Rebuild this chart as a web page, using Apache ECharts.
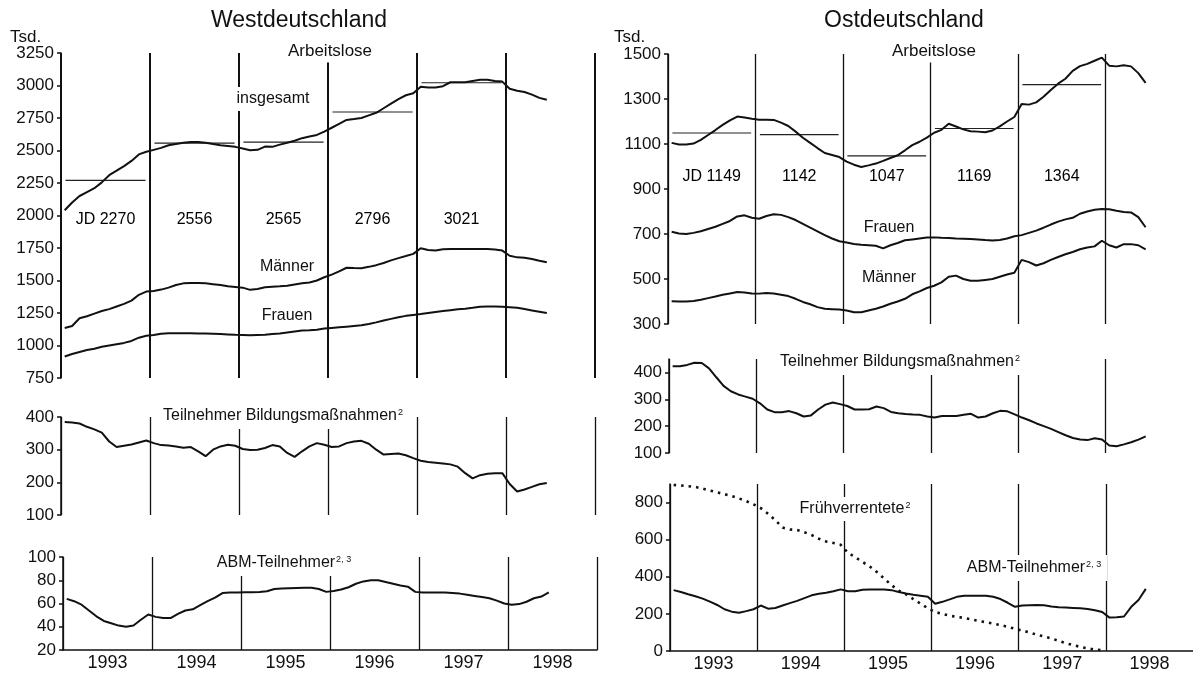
<!DOCTYPE html>
<html>
<head>
<meta charset="utf-8">
<script src="https://cdn.jsdelivr.net/npm/echarts@6/dist/echarts.min.js"></script>
<style>
html,body{margin:0;padding:0;background:#fff;}
#chart{width:1193px;height:678px;}
</style>
</head>
<body>
<div id="chart"></div>
<script>
// ---------- data (thousands), monthly Jan 1993 .. Jun 1998 ----------
const yearLabels = ['1993','1994','1995','1996','1997','1998'];
const jdYears = [1993,1994,1995,1996,1997];

// Westdeutschland
const westTotal = [2040,2100,2150,2180,2210,2255,2310,2345,2380,2420,2470,2490,
  2505,2520,2540,2550,2560,2565,2565,2560,2550,2540,2535,2528,
  2515,2502,2505,2530,2528,2545,2560,2575,2595,2608,2620,2645,
  2675,2705,2735,2742,2750,2770,2790,2825,2860,2895,2925,2940,
  2990,2985,2985,2995,3025,3025,3025,3035,3045,3045,3035,3030,
  2975,2960,2950,2930,2905,2890];
const westMen = [1135,1150,1210,1225,1245,1265,1280,1300,1320,1345,1390,1415,
  1420,1430,1445,1465,1478,1480,1480,1478,1472,1465,1455,1450,
  1445,1428,1435,1448,1452,1455,1460,1470,1478,1485,1500,1525,
  1545,1570,1598,1596,1595,1605,1618,1635,1655,1672,1688,1705,
  1748,1735,1730,1740,1742,1743,1743,1742,1743,1743,1738,1730,
  1690,1678,1675,1665,1652,1640];
const westWomen = [915,935,950,965,975,990,1000,1010,1020,1035,1060,1075,
  1080,1090,1095,1095,1095,1095,1093,1092,1090,1088,1085,1082,
  1080,1078,1080,1082,1088,1092,1100,1108,1115,1118,1122,1130,
  1135,1140,1145,1150,1155,1165,1178,1192,1205,1218,1228,1235,
  1242,1250,1258,1265,1272,1278,1283,1290,1298,1300,1300,1298,
  1295,1290,1280,1270,1260,1250];
const westJD = [2270,2556,2565,2796,3021];
const westTraining = [385,383,380,370,362,352,325,308,312,316,322,328,
  320,314,313,310,306,308,295,280,300,310,315,312,
  302,299,300,305,314,310,290,278,295,310,320,315,
  308,310,320,325,327,318,300,285,287,288,283,274,
  266,262,260,258,255,248,228,212,222,226,228,228,
  195,172,178,186,194,198];
const westABM = [64,62,59,54,49,45,43,41,40,41,46,50.5,
  48.5,47.5,47.5,51,54,55,58.5,62,65,69,69.5,69.5,
  69.6,69.7,69.8,70.5,72.5,73,73.2,73.4,73.5,73.5,72.5,70,
  70.8,72,74,77,79,80,80,78.5,77,75.5,74.5,70,
  69.5,69.5,69.5,69.5,69,68.5,67.5,66.5,65.5,64.5,62.5,60,
  59,59.5,61.5,64.5,66,69.5];

// Ostdeutschland
const eastTotal = [1105,1098,1098,1102,1118,1140,1162,1185,1205,1222,1218,1212,
  1208,1208,1207,1195,1180,1155,1128,1105,1082,1060,1051,1042,
  1022,1008,998,1005,1013,1025,1038,1050,1072,1095,1110,1128,
  1150,1163,1190,1178,1165,1157,1155,1152,1160,1178,1200,1220,
  1278,1275,1285,1310,1340,1368,1390,1425,1446,1456,1470,1484,
  1448,1445,1450,1445,1415,1372];
const eastWomen = [710,702,700,705,712,722,732,745,758,778,783,772,
  768,780,788,785,775,762,745,728,712,695,680,668,
  662,656,652,650,648,636,650,660,672,676,680,684,
  685,683,682,680,679,678,676,673,671,673,680,690,
  695,705,715,728,742,755,765,772,790,800,808,811,
  810,803,798,796,775,730];
const eastMen = [401,400,400,402,408,415,422,430,436,442,440,436,
  435,438,436,430,424,412,398,388,375,368,366,364,
  360,352,352,360,368,378,390,400,412,432,445,460,
  470,485,510,515,500,492,492,496,500,510,520,528,
  585,575,560,570,585,598,610,620,632,640,645,670,
  650,640,655,655,650,632];
const eastJD = [1149,1142,1047,1169,1364];
const eastTraining = [423,423,428,436,435,415,382,350,330,318,310,302,
  285,262,252,252,256,248,236,240,262,280,288,282,
  275,262,262,263,273,267,253,248,245,243,242,236,
  232,238,238,238,242,246,232,236,248,257,255,244,
  232,222,210,200,190,178,166,156,150,148,155,150,
  128,125,132,140,150,162];
const eastABM = [328,318,306,295,282,266,248,225,212,206,215,225,
  245,228,232,245,258,270,285,300,308,314,322,332,
  322,322,330,332,332,332,328,318,310,303,298,292,
  255,265,278,292,298,298,298,298,292,280,260,238,
  245,247,248,246,240,236,234,232,230,226,220,210,
  180,182,186,238,275,335];
const eastEarlyRetired = [895,892,888,884,875,865,855,845,835,822,808,790,
  770,740,705,665,655,652,640,625,605,590,582,572,
  530,505,480,455,425,390,355,325,305,280,255,230,
  210,200,190,184,178,170,162,155,148,140,130,120,
  110,100,88,78,68,55,42,32,22,14,8,4];

// ---------- helpers ----------
const FONT = '"Liberation Sans", Arial, Helvetica, sans-serif';
const INK = '#111';
function monthly(values){ return values.map((v,i)=>[1993 + (i + 0.5)/12, v]); }

const chart = echarts.init(document.getElementById('chart'), null, {renderer:'canvas'});

const grids = [
  {left:61,  top:53,  width:534, height:325},
  {left:61,  top:417, width:534, height:98},
  {left:63,  top:557, width:534, height:93},
  {left:668, top:54,  width:532, height:270},
  {left:669, top:359, width:532, height:94},
  {left:670, top:484, width:532, height:167}
];

function valueX(g, baseLine, splitW, showMax){
  return {gridIndex:g, type:'value', min:1993, max:1999, interval:1,
    axisLine:{show:baseLine, onZero:false, lineStyle:{color:INK, width:1.6}},
    axisTick:{show:false}, axisLabel:{show:false},
    splitLine:{show:true, showMaxLine:showMax, lineStyle:{color:INK, width:splitW}}};
}
function yearX(g){
  return {gridIndex:g, type:'category', data:yearLabels, position:'bottom', boundaryGap:true,
    axisLine:{show:false}, axisTick:{show:false}, splitLine:{show:false},
    axisLabel:{show:true, fontSize:18, color:INK, fontFamily:FONT, margin:4}};
}
function valueY(g, min, max, interval, ticks){
  const y = {gridIndex:g, type:'value', min:min, max:max, interval:interval,
    axisLine:{show:true, onZero:false, lineStyle:{color:INK, width:1.5}},
    axisTick:{show:true, length:4, lineStyle:{color:INK, width:1.5}},
    axisLabel:{fontSize:17, color:INK, fontFamily:FONT, margin:7,
      formatter:(v)=> (ticks.indexOf(v) >= 0 ? String(v) : '')},
    splitLine:{show:false}};
  y.axisTick.customValues = ticks;
  return y;
}
function line(xi, yi, values, extra){
  return Object.assign({type:'line', xAxisIndex:xi, yAxisIndex:yi, data:monthly(values),
    showSymbol:false, symbol:'none', silent:true, smooth:false,
    lineStyle:{color:INK, width:2}, z:3}, extra||{});
}

const series = [
  line(0,0,westTotal), line(0,0,westMen), line(0,0,westWomen),
  line(1,1,westTraining), line(2,2,westABM),
  line(3,3,eastTotal), line(3,3,eastWomen), line(3,3,eastMen),
  line(4,4,eastTraining), line(5,5,eastABM),
  line(5,5,eastEarlyRetired,{lineStyle:{color:INK, width:2.6, type:[2.5,5], cap:'butt'}})
];

// annual averages (JD) as short horizontal segments
function jdSegments(xi, yi, vals){
  vals.forEach((v,k)=>{
    series.push({type:'line', xAxisIndex:xi, yAxisIndex:yi, silent:true, showSymbol:false, symbol:'none',
      data:[[jdYears[k]+0.05, v],[jdYears[k]+0.95, v]], lineStyle:{color:'#222', width:1.2}, z:2});
  });
}
jdSegments(0,0,westJD);
jdSegments(3,3,eastJD);

function jdLabels(xi, yi, vals, yPos){
  series.push({type:'scatter', xAxisIndex:xi, yAxisIndex:yi, silent:true, symbolSize:0,
    itemStyle:{opacity:1, color:INK},
    data: vals.map((v,k)=>({value:[jdYears[k]+0.5, yPos], name:(k===0?'JD ':'') + v})),
    label:{show:true, position:'inside', formatter:'{b}', fontSize:16, color:'#000', opacity:1,
      fontFamily:FONT, textBorderWidth:0}, z:4});
}
jdLabels(0,0,westJD,1968);
jdLabels(3,3,eastJD,955);

function txt(x, y, text, size, opts){
  const o = opts || {};
  return {type:'text', x:x, y:y, z:100, silent:true,
    style:Object.assign({text:text, fontSize:size, fontFamily:FONT, fill:INK,
      align:o.align||'center', verticalAlign:'middle',
      textAlign:o.align||'center', textVerticalAlign:'middle',
      backgroundColor:o.bg||null, padding:o.pad||0}, o.style||{})};
}
const supRich = {a:{fontSize:16, fontFamily:FONT, fill:INK, color:INK},
                 s:{fontSize:9, fontFamily:FONT, fill:INK, color:INK, verticalAlign:'top', padding:[0,0,0,1]}};
function supTxt(x, y, main, sup, opts){
  const t = txt(x, y, '{a|' + main + '}{s|' + sup + '}', 16, opts);
  t.style.rich = supRich;
  return t;
}

const graphic = [
  txt(299, 21, 'Westdeutschland', 23),
  txt(904, 21, 'Ostdeutschland', 23),
  txt(10, 37, 'Tsd.', 17, {align:'left'}),
  txt(614, 37, 'Tsd.', 17, {align:'left'}),
  txt(330, 51, 'Arbeitslose', 17, {bg:'#fff', pad:[3,6]}),
  txt(273, 99, 'insgesamt', 16, {bg:'#fff', pad:[4,6]}),
  txt(287, 267, 'Männer', 16),
  txt(287, 316, 'Frauen', 16),
  supTxt(283, 416, 'Teilnehmer Bildungsmaßnahmen', '2', {bg:'#fff', pad:[5,6]}),
  supTxt(284, 563, 'ABM-Teilnehmer', '2, 3', {bg:'#fff', pad:[5,6]}),
  txt(934, 51, 'Arbeitslose', 17, {bg:'#fff', pad:[3,6]}),
  txt(889, 228, 'Frauen', 16),
  txt(889, 278, 'Männer', 16),
  supTxt(900, 362, 'Teilnehmer Bildungsmaßnahmen', '2', {bg:'#fff', pad:[5,6]}),
  supTxt(855, 509, 'Frühverrentete', '2', {bg:'#fff', pad:[4,4]}),
  supTxt(1034, 568, 'ABM-Teilnehmer', '2, 3', {bg:'#fff', pad:[5,6]})
];

chart.setOption({
  animation:false,
  backgroundColor:'#fff',
  textStyle:{fontFamily:FONT},
  grid:grids,
  xAxis:[
    valueX(0,false,2,true), valueX(1,false,1.3,true), valueX(2,true,1.3,true),
    valueX(3,false,1.3,false), valueX(4,false,1.3,false), valueX(5,true,1.3,false),
    yearX(2), yearX(5)
  ],
  yAxis:[
    valueY(0,750,3250,250,[750,1000,1250,1500,1750,2000,2250,2500,2750,3000,3250]),
    valueY(1,100,400,100,[100,200,300,400]),
    valueY(2,20,100,20,[20,40,60,80,100]),
    valueY(3,300,1500,200,[300,500,700,900,1100,1300,1500]),
    valueY(4,100,450,50,[100,200,300,400]),
    valueY(5,0,900,100,[0,200,400,600,800])
  ],
  series:series,
  graphic:graphic
});
</script>
</body>
</html>
